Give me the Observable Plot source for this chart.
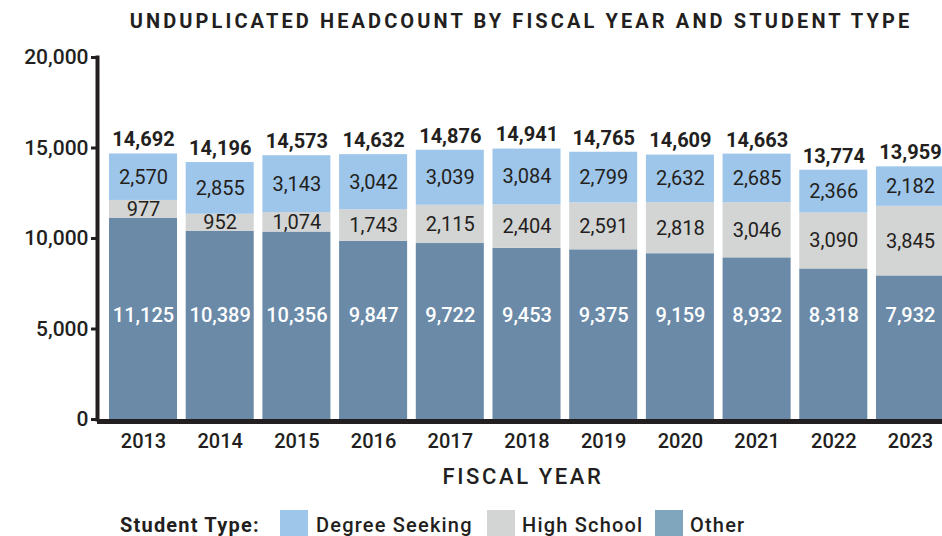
<!DOCTYPE html>
<html>
<head>
<meta charset="utf-8">
<script src="https://cdn.jsdelivr.net/npm/d3@7"></script>
<script src="https://cdn.jsdelivr.net/npm/@observablehq/plot@0.6"></script>
<style>
  body { margin: 0; background: #fff; font-family: Roboto, "DejaVu Sans", sans-serif; color: #231f20; }
  #wrap { width: 942px; height: 536px; position: relative; overflow: hidden; }
  #title { position: absolute; left: 0; top: 9px; width: 1042px; text-align: center; font-weight: 700; font-size: 20px; letter-spacing: 3.1px; }
  #xlabel { position: absolute; left: 0; top: 463px; width: 1046px; text-align: center; font-weight: 500; font-size: 22px; letter-spacing: 2.6px; line-height: 28px; }
  #legend { position: absolute; left: 0; top: 0; width: 942px; height: 536px; font-size: 20px; font-weight: 500; letter-spacing: 1.2px; }
  #legend span { position: absolute; white-space: nowrap; }
  #legend .txt { top: 512px; line-height: 26px; }
  #legend .sw { width: 28px; height: 30px; top: 510px; }
  #chart { position: absolute; left: 0; top: 40px; }
</style>
</head>
<body>
<div id="wrap">
  <div id="title">UNDUPLICATED HEADCOUNT BY FISCAL YEAR AND STUDENT TYPE</div>
  <div id="chart"></div>
  <div id="xlabel">FISCAL YEAR</div>
  <div id="legend"></div>
</div>
<script>
const years = ["2013","2014","2015","2016","2017","2018","2019","2020","2021","2022","2023"];
const other = [11125,10389,10356,9847,9722,9453,9375,9159,8932,8318,7932];
const highSchool = [977,952,1074,1743,2115,2404,2591,2818,3046,3090,3845];
const degreeSeeking = [2570,2855,3143,3042,3039,3084,2799,2632,2685,2366,2182];
const totals = [14692,14196,14573,14632,14876,14941,14765,14609,14663,13774,13959];
const types = ["Other","High School","Degree Seeking"];
const colors = ["#6a8aa8","#d3d4d4","#9ec6ea"];
const legendTypes = ["Degree Seeking","High School","Other"];
const legendColors = ["#9ec6ea","#d3d4d4","#7fa6bd"];
const yTicks = [0,5000,10000,15000,20000];
const otherLabelY = 5750;

const series = {"Other": other, "High School": highSchool, "Degree Seeking": degreeSeeking};
const rows = [];
types.forEach(t => years.forEach((y, i) => rows.push({year: y, type: t, value: series[t][i]})));
const otherRows = rows.filter(d => d.type === "Other");
const totalRows = years.map((y, i) => ({year: y, total: totals[i]}));
const fmt = d3.format(",");

const plot = Plot.plot({
  width: 942,
  height: 420,
  marginTop: 17,
  marginBottom: 41,
  marginLeft: 97,
  marginRight: 0,
  style: {fontFamily: "Roboto, sans-serif", color: "#231f20", background: "transparent"},
  x: {domain: years, paddingInner: 0.113, paddingOuter: 0.065, insetLeft: 7, insetRight: -7, round: false},
  y: {domain: [0, 20000]},
  color: {domain: types, range: colors},
  marks: [
    Plot.barY(rows, Plot.stackY({x: "year", y: "value", fill: "type", order: types})),
    Plot.text(rows, Plot.stackY({
      x: "year", y: "value", z: "type", order: types,
      text: d => d.type === "Other" ? null : fmt(d.value),
      fill: "#231f20", fontSize: 20, fontWeight: 400
    })),
    Plot.text(otherRows, {x: "year", y: () => otherLabelY, text: d => fmt(d.value), fill: "#ffffff", fontSize: 20, fontWeight: 500}),
    Plot.text(totalRows, {x: "year", y: "total", text: d => fmt(d.total), dy: -14, fontSize: 20, fontWeight: 700, fill: "#231f20"}),
    Plot.axisY({ticks: yTicks, tickFormat: d3.format(","), tickSize: 6, tickPadding: 3, strokeWidth: 3, fontSize: 21, fontWeight: 500, label: null}),
    Plot.axisX({tickSize: 0, tickPadding: 14, fontSize: 20, fontWeight: 500, label: null}),
    Plot.frame({anchor: "left", strokeWidth: 4, stroke: "#231f20"}),
    Plot.ruleY([0], {strokeWidth: 5, stroke: "#231f20", dy: 2})
  ]
});
document.getElementById("chart").appendChild(plot);

const legend = document.getElementById("legend");
function add(cls, left, text, bg, extra) {
  const s = document.createElement("span");
  s.className = cls;
  s.style.left = left + "px";
  if (text) s.textContent = text;
  if (bg) s.style.background = bg;
  if (extra) Object.assign(s.style, extra);
  legend.appendChild(s);
}
add("txt", 120, "Student Type:", null, {fontWeight: "700"});
const swX = [280, 487, 655];
const txtX = [316, 522, 690];
legendTypes.forEach((t, i) => {
  add("sw", swX[i], null, legendColors[i]);
  add("txt", txtX[i], t);
});
</script>
</body>
</html>
